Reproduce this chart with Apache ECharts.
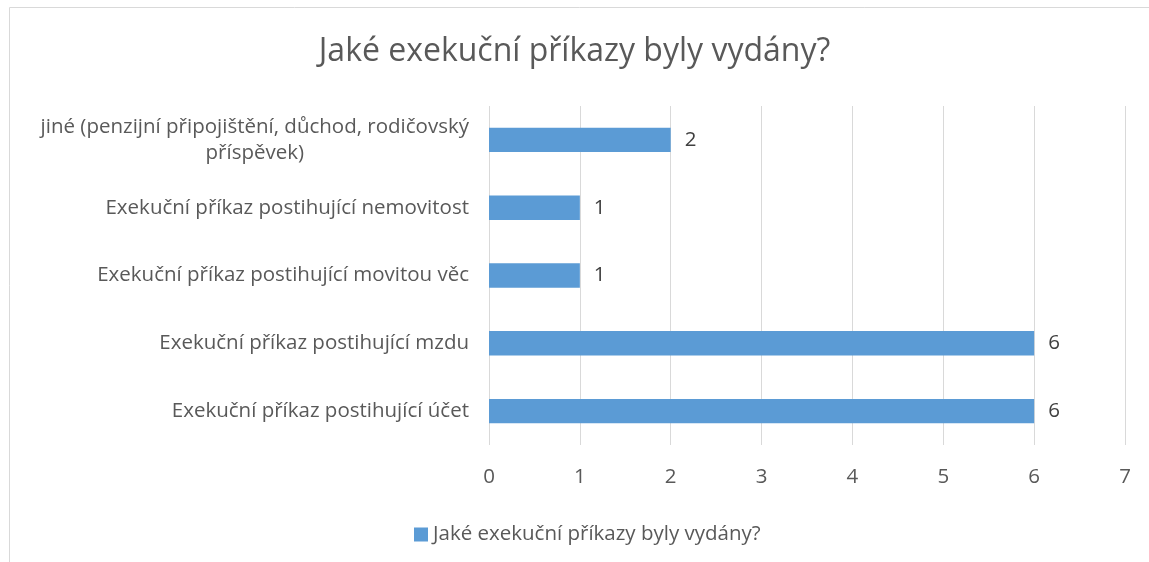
<!DOCTYPE html>
<html>
<head>
<meta charset="utf-8">
<script src="https://cdn.jsdelivr.net/npm/echarts@6/dist/echarts.min.js"></script>
<style>html,body{margin:0;padding:0;background:#fff;}#c{width:1149px;height:562px;}</style>
</head>
<body>
<div id="c"></div>
<script>
const titleText = 'Jaké exekuční příkazy byly vydány?';
const seriesName = 'Jaké exekuční příkazy byly vydány?';
const categories = [
  'jiné (penzijní připojištění, důchod, rodičovský\npříspěvek)',
  'Exekuční příkaz postihující nemovitost',
  'Exekuční příkaz postihující movitou věc',
  'Exekuční příkaz postihující mzdu',
  'Exekuční příkaz postihující účet'
];
const values = [2, 1, 1, 6, 6];
const xTicks = [0, 1, 2, 3, 4, 5, 6, 7];

const FONT = '"Open Sans", "Noto Sans", sans-serif';
const FS = 20.5;
const chart = echarts.init(document.getElementById('c'));
chart.setOption({
  animation: false,
  textStyle: { fontFamily: FONT },
  title: {
    text: titleText, left: 'center', top: 31,
    textStyle: { fontFamily: FONT, fontSize: 32, fontWeight: 'normal', color: '#595959' }
  },
  graphic: [{
    type: 'rect', shape: { x: 9.5, y: 7.5, width: 2000, height: 2000 },
    style: { fill: 'none', stroke: '#d9d9d9', lineWidth: 1 }, silent: true
  }],
  legend: {
    left: 409, top: 519, icon: 'rect', itemWidth: 14, itemHeight: 14, itemGap: 6,
    textStyle: { fontFamily: FONT, fontSize: FS, color: '#595959' },
    data: [seriesName]
  },
  grid: { left: 489, right: 24, top: 106, bottom: 117 },
  xAxis: {
    type: 'value', min: xTicks[0], max: xTicks[xTicks.length - 1], interval: 1,
    axisLine: { show: false }, axisTick: { show: false },
    splitLine: { lineStyle: { color: '#d9d9d9', width: 1 } },
    axisLabel: { fontFamily: FONT, fontSize: FS, color: '#595959', margin: 22 }
  },
  yAxis: {
    type: 'category', data: categories, inverse: true,
    axisLine: { show: false }, axisTick: { show: false },
    axisLabel: {
      margin: 20, fontFamily: FONT, fontSize: FS, color: '#595959', lineHeight: 26,
      formatter: function (v) {
        return v.split('\n').map(function (s) { return '{a|' + s + '}'; }).join('\n');
      },
      rich: { a: { align: 'center', fontFamily: FONT, fontSize: FS, color: '#595959', lineHeight: 26 } }
    }
  },
  series: [{
    name: seriesName, type: 'bar', data: values, barCategoryGap: '64%',
    itemStyle: { color: '#5b9bd5' },
    label: { show: true, position: 'right', distance: 14, fontFamily: FONT, fontSize: FS, color: '#404040' }
  }]
});
</script>
</body>
</html>
